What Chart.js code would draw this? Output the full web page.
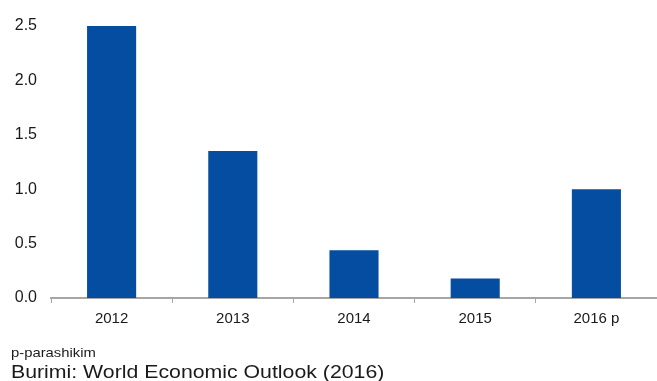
<!DOCTYPE html>
<html>
<head>
<meta charset="utf-8">
<script src="https://cdn.jsdelivr.net/npm/chart.js@4"></script>
<style>
  html, body { margin: 0; padding: 0; background: #fff; }
  #wrap { width: 657px; height: 381px; position: relative; }
</style>
</head>
<body>
<div id="wrap"><canvas id="growthChart"></canvas></div>
<script>
// Data
const years = ['2012', '2013', '2014', '2015', '2016 p'];
const growth = [2.5, 1.35, 0.44, 0.18, 1.0];
const yTicks = [0, 0.5, 1.0, 1.5, 2.0, 2.5];
const footNote = 'p-parashikim';
const sourceNote = 'Burimi: World Economic Outlook (2016)';

Chart.defaults.font.family = '"Liberation Sans", Arial, sans-serif';
Chart.defaults.color = '#222';

// draw text a little wider than the font gives
function wideText(ctx, text, x, y, size, stretch) {
  ctx.save();
  ctx.font = size + 'px "Liberation Sans", Arial, sans-serif';
  ctx.translate(x, y);
  ctx.scale(stretch, 1);
  ctx.fillText(text, 0, 0);
  ctx.restore();
}

// Footnotes under the chart
const notesPlugin = {
  id: 'notes',
  afterDraw(chart) {
    const ctx = chart.ctx;
    ctx.save();
    ctx.fillStyle = '#1a1a1a';
    ctx.textAlign = 'left';
    ctx.textBaseline = 'alphabetic';
    wideText(ctx, footNote, 11, 357, 13, 1.14);
    wideText(ctx, sourceNote, 11, 378, 19, 1.12);
    ctx.restore();
  }
};

const ctx = document.getElementById('growthChart').getContext('2d');
const growthChart = new Chart(ctx, {
  type: 'bar',
  data: {
    labels: years,
    datasets: [{
      data: growth,
      backgroundColor: '#054DA0',
      borderWidth: 0,
      categoryPercentage: 1,
      barPercentage: 0.405
    }]
  },
  options: {
    responsive: true,
    maintainAspectRatio: false,
    animation: false,
    layout: { padding: { top: 26, bottom: 43, left: 0, right: 0 } },
    plugins: {
      legend: { display: false },
      tooltip: { enabled: false }
    },
    scales: {
      x: {
        grid: {
          drawOnChartArea: false,
          drawTicks: true,
          tickLength: 5,
          color: '#a6a6a6'
        },
        border: { display: true, color: '#a6a6a6', width: 2 },
        ticks: { font: { size: 15 }, padding: 7, maxRotation: 0, color: '#1a1a1a' },
        afterFit(scale) { scale.height = 40; }
      },
      y: {
        min: 0,
        max: 2.5,
        grid: { display: false, drawTicks: false },
        border: { display: false },
        afterBuildTicks(scale) {
          scale.ticks = yTicks.map(v => ({ value: v }));
        },
        ticks: {
          font: { size: 16 },
          padding: 14,
          color: '#1a1a1a',
          callback: v => Number(v).toFixed(1)
        },
        afterFit(scale) { scale.width = 51; }
      }
    }
  },
  plugins: [notesPlugin]
});
</script>
</body>
</html>
